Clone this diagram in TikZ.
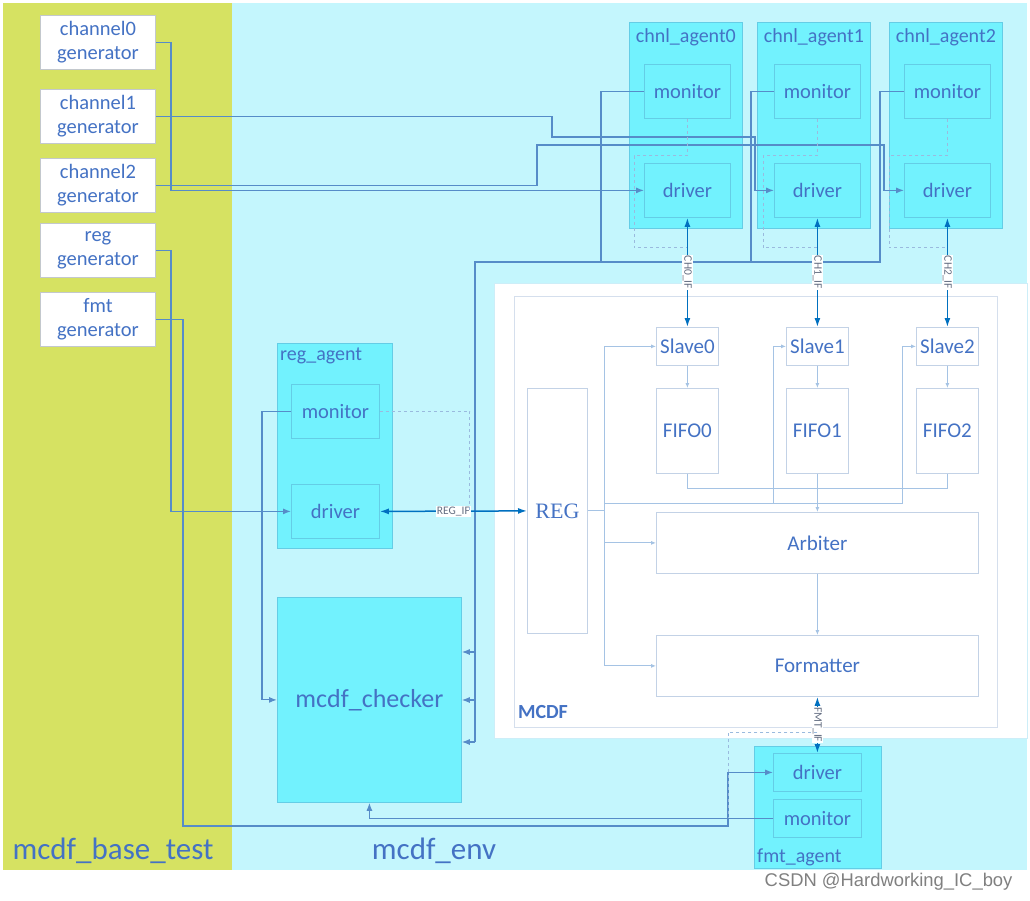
\documentclass[tikz,border=0pt]{standalone}
\usepackage{fontspec}
\setmainfont{Carlito}
\newfontfamily\regfont{Liberation Serif}
\newfontfamily\wmfont{Liberation Sans}
\usetikzlibrary{arrows.meta,positioning}
\definecolor{testgreen}{RGB}{214,226,98}
\definecolor{envcyan}{RGB}{196,246,253}
\definecolor{agcyan}{RGB}{114,242,254}
\definecolor{agedge}{RGB}{100,205,230}
\definecolor{txtblue}{RGB}{68,114,196}
\definecolor{wireblue}{RGB}{86,140,200}
\definecolor{ifblue}{RGB}{0,112,192}
\definecolor{innerline}{RGB}{165,195,228}
\definecolor{blkedge}{RGB}{195,210,230}
\definecolor{genedge}{RGB}{195,200,205}
\newcommand{\genfont}{\fontsize{20.5}{24}\selectfont}
\newcommand{\blkfont}{\fontsize{21}{24}\selectfont}
\newcommand{\bigfont}{\fontsize{31}{31}\selectfont}
\newcommand{\chkfont}{\fontsize{26}{26}\selectfont}
\newcommand{\iffont}{\fontsize{11.5}{11.5}\selectfont}
\tikzset{gen/.style={draw=genedge, fill=white, line width=1pt, anchor=north west, minimum width=115, minimum height=54, inner sep=0, align=center, text=txtblue, font=\genfont}}
\tikzset{agent/.style={draw=agedge, fill=agcyan, line width=0.8pt, anchor=north west, minimum width=113, minimum height=206}}
\tikzset{agtitle/.style={text=txtblue, font=\fontsize{20}{20}\selectfont, inner sep=2pt}}
\tikzset{part/.style={draw=agedge, fill=agcyan, line width=0.8pt, anchor=north west, minimum width=86, minimum height=54, text=txtblue, font=\genfont}}
\tikzset{blk/.style={draw=blkedge, fill=white, line width=0.8pt, anchor=north west, text=txtblue, font=\blkfont}}
\tikzset{wire/.style={draw=wireblue, line width=1.15pt, >={Latex[length=8pt,width=6pt]}}}
\tikzset{ifline/.style={draw=ifblue, line width=1.5pt, {Latex[length=9pt,width=6pt]}-{Latex[length=9pt,width=6pt]}}}
\tikzset{iflabel/.style={fill=white, inner sep=1pt, font=\iffont, text={rgb,255:red,100;green,110;blue,130}}}
\tikzset{tapline/.style={draw=wireblue!60, line width=0.8pt, dashed}}
\tikzset{inner/.style={draw=innerline, line width=0.9pt, >={Latex[length=5pt,width=4pt]}}}

\begin{document}
\begin{tikzpicture}[x=1pt,y=-1pt]
\useasboundingbox[fill=white] (0,0) rectangle (1030,901);
% areas
\fill[testgreen] (3,3) rectangle (232,870);
\fill[envcyan] (232,3) rectangle (1027,870);
\filldraw[fill=white, draw={rgb,255:red,205;green,238;blue,248}, line width=1pt] (494,283) rectangle (1027,738);
\draw[draw=blkedge!70, line width=1pt] (514,296) rectangle (997,727);

% generators
\node[gen] (gen0) at (40,15) {channel0\\generator};
\node[gen] (gen1) at (40,89) {channel1\\generator};
\node[gen] (gen2) at (40,158) {channel2\\generator};
\node[gen] (genreg) at (40,223) {reg\\generator};
\node[gen] (genfmt) at (40,292) {fmt\\generator};

% channel agents
\node[agent] (ag0) at (629,22) {};
\node[agent] (ag1) at (757,22) {};
\node[agent] (ag2) at (889,22) {};
\node[agtitle, anchor=north] (ag0t) at ([yshift=-4pt]ag0.north) {chnl\_agent0};
\node[agtitle, anchor=north] (ag1t) at ([yshift=-4pt]ag1.north) {chnl\_agent1};
\node[agtitle, anchor=north] (ag2t) at ([yshift=-4pt]ag2.north) {chnl\_agent2};
\node[part] (mon0) at (644,64) {monitor};
\node[part] (drv0) at (644,163) {driver};
\node[part] (mon1) at (774,64) {monitor};
\node[part] (drv1) at (774,163) {driver};
\node[part] (mon2) at (904,64) {monitor};
\node[part] (drv2) at (904,163) {driver};

% reg agent, checker, fmt agent
\node[agent, minimum width=115, minimum height=205] (regag) at (277,343) {};
\node[agtitle, anchor=north west] (regagt) at ([xshift=1pt,yshift=-3pt]regag.north west) {reg\_agent};
\node[part, minimum width=88] (regmon) at (291,384) {monitor};
\node[part, minimum width=88] (regdrv) at (291,484) {driver};
\node[agent, minimum width=184, minimum height=205, text=txtblue, font=\chkfont] (chk) at (277,597) {mcdf\_checker};
\node[agent, minimum width=127, minimum height=122] (fmtag) at (754,746) {};
\node[agtitle, anchor=south west] (fmtagt) at ([xshift=1pt,yshift=1pt]fmtag.south west) {fmt\_agent};
\node[part, minimum width=88, minimum height=38] (fmtdrv) at (773,753) {driver};
\node[part, minimum width=88, minimum height=38] (fmtmon) at (773,799) {monitor};

% MCDF
\node[blk, minimum width=60, minimum height=245, font=\regfont\fontsize{22}{22}\selectfont] (REG) at (527,388) {REG};
\node[blk, minimum width=62, minimum height=38] (sl0) at (656,327) {Slave0};
\node[blk, minimum width=62, minimum height=38] (sl1) at (786,327) {Slave1};
\node[blk, minimum width=62, minimum height=38] (sl2) at (916,327) {Slave2};
\node[blk, minimum width=62, minimum height=85] (ff0) at (656,388) {FIFO0};
\node[blk, minimum width=62, minimum height=85] (ff1) at (786,388) {FIFO1};
\node[blk, minimum width=62, minimum height=85] (ff2) at (916,388) {FIFO2};
\node[blk, minimum width=322, minimum height=61] (arb) at (656,512) {Arbiter};
\node[blk, minimum width=322, minimum height=61] (fmtr) at (656,635) {Formatter};
\node[font=\bfseries\fontsize{20}{20}\selectfont, text=txtblue] (mcdflbl) at (543,712) {MCDF};

% area labels
\node[font=\bigfont, text=txtblue] (testlbl) at (113,851) {mcdf\_base\_test};
\node[font=\bigfont, text=txtblue] (envlbl) at (434,851) {mcdf\_env};
\node[font=\wmfont\fontsize{18.4}{18.4}\selectfont, text=gray, anchor=east] (wm) at (1016,882) {CSDN @Hardworking\_IC\_boy};

% stimulus
\draw[wire,->] (gen0.east) -- ++(15,0) |- (drv0.west);
\draw[wire,->] (gen1.east) -| (552,137) -| ([xshift=-19pt]drv1.west) -- (drv1.west);
\draw[wire,->] (gen2.east) -| (537,145) -| ([xshift=-20pt]drv2.west) -- (drv2.west);
\draw[wire,->] (genreg.east) -- ++(15,0) |- (regdrv.west);
\draw[wire,->] (genfmt.east) -- ++(27,0) |- (728,826) |- (fmtdrv.west);

% monitors to checker
\draw[wire] (mon0.west) -| (601,262);
\draw[wire] (mon1.west) -| (751,262);
\draw[wire] (mon2.west) -| (880,262) -- (475,262) -- (475,742);
\foreach \ty in {652,700,742}
  \draw[wire,->] (475,\ty) -- (chk.east |- 0,\ty);
\draw[wire,->] (regmon.west) -- ++(-29,0) |- (chk.west);
\draw[wire,->] (fmtmon.west) -| (chk.south);

% interfaces
\draw[ifline] (drv0.south) -- node[iflabel, rotate=-90] (if0) {CH0\_IF} (sl0.north);
\draw[ifline] (drv1.south) -- node[iflabel, rotate=-90] (if1) {CH1\_IF} (sl1.north);
\draw[ifline] (drv2.south) -- node[iflabel, rotate=-90] (if2) {CH2\_IF} (sl2.north);
\draw[ifline] (regdrv.east) -- node[iflabel] (ifreg) {REG\_IF} (REG.west);
\draw[ifline] (fmtr.south) -- node[iflabel, rotate=-90] (iffmt) {FMT\_IF} (fmtdrv.north);

% monitor taps
\draw[tapline] (mon0.south) -- ++(0,37) -- ++(-53,0) -- ++(0,92) -- ++(53,0);
\draw[tapline] (mon1.south) -- ++(0,37) -- ++(-54,0) -- ++(0,92) -- ++(54,0);
\draw[tapline] (mon2.south) -- ++(0,37) -- ++(-58,0) -- ++(0,92) -- ++(58,0);
\draw[tapline] (regmon.east) -| ([xshift=90pt]regdrv.east);
\draw[tapline] ([yshift=-36pt]fmtr.south) -| ([xshift=-45pt]fmtmon.west);

% inside MCDF
\foreach \i in {0,1,2}
  \draw[inner,->] (sl\i) -- (ff\i);
\draw[inner] (ff0.south) -- ++(0,15) -| (ff2.south);
\draw[inner,->] (ff1) -- (arb);
\draw[inner] (REG.east) -- ++(17,0);
\draw[inner,->] ([xshift=17pt]REG.east) |- (sl0.west);
\draw[inner,->] ([xshift=17pt]REG.east) |- (arb.west);
\draw[inner,->] ([xshift=17pt]REG.east) |- (fmtr.west);
\draw[inner,->] ([xshift=17pt,yshift=7pt]REG.east) -| ([xshift=-13pt]sl1.west) -- (sl1.west);
\draw[inner,->] ([xshift=17pt,yshift=7pt]REG.east) -| ([xshift=-14pt]sl2.west) -- (sl2.west);
\draw[inner,->] (arb) -- (fmtr);
\end{tikzpicture}
\end{document}
